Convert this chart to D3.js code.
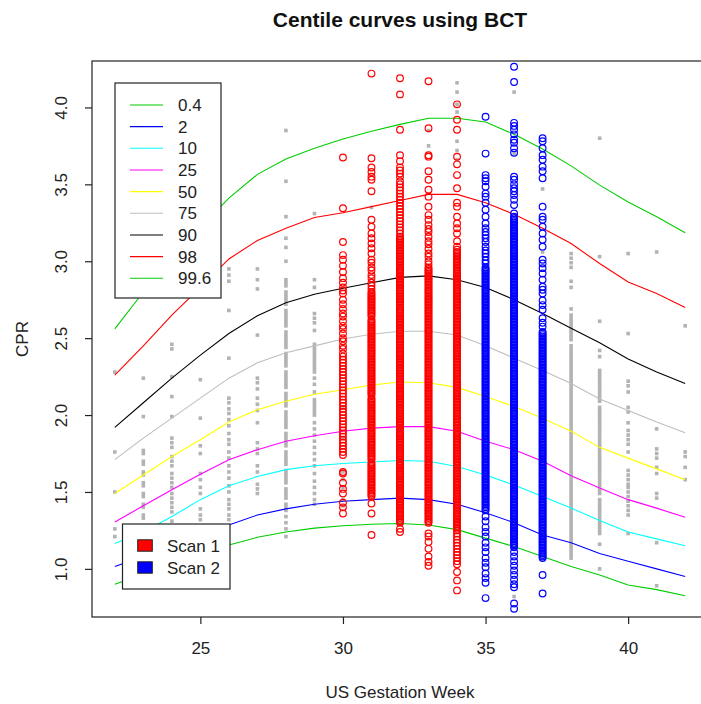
<!DOCTYPE html>
<html>
<head>
<meta charset="utf-8">
<script src="https://cdn.jsdelivr.net/npm/d3@7"></script>
<style>
  html, body { margin: 0; padding: 0; background: #ffffff; }
  svg { display: block; font-family: Arial, "Liberation Sans", sans-serif; }
</style>
</head>
<body>
<svg id="chart" width="701" height="704"></svg>
<script>
// ---- Centile curves (CPR by gestation week) ----
const weeks = [22,23,24,25,26,27,28,29,30,31,32,33,34,35,36,37,38,39,40,41,42];
const c0_4  = [0.90,0.965,1.035,1.10,1.155,1.205,1.24,1.265,1.28,1.29,1.295,1.285,1.255,1.20,1.145,1.08,1.015,0.96,0.895,0.865,0.825];
const c2    = [1.015,1.08,1.15,1.22,1.285,1.35,1.39,1.42,1.44,1.45,1.46,1.45,1.42,1.365,1.30,1.22,1.17,1.10,1.05,1.00,0.95];
const c10   = [1.165,1.24,1.34,1.45,1.54,1.60,1.645,1.67,1.685,1.695,1.705,1.70,1.665,1.61,1.545,1.47,1.395,1.315,1.24,1.195,1.15];
const c25   = [1.305,1.41,1.515,1.615,1.71,1.775,1.83,1.865,1.895,1.915,1.925,1.925,1.895,1.83,1.775,1.70,1.605,1.525,1.45,1.395,1.335];
const c50   = [1.49,1.61,1.73,1.84,1.955,2.035,2.09,2.135,2.165,2.195,2.215,2.21,2.18,2.12,2.055,1.98,1.895,1.79,1.72,1.65,1.58];
const c75   = [1.71,1.85,1.98,2.11,2.24,2.34,2.405,2.45,2.495,2.525,2.545,2.545,2.52,2.45,2.37,2.29,2.205,2.105,2.03,1.955,1.885];
const c90   = [1.92,2.08,2.24,2.39,2.53,2.645,2.73,2.785,2.825,2.86,2.895,2.905,2.88,2.83,2.75,2.66,2.565,2.47,2.365,2.28,2.205];
const c98   = [2.26,2.45,2.65,2.83,3.015,3.135,3.215,3.285,3.315,3.355,3.395,3.435,3.435,3.38,3.305,3.215,3.115,2.985,2.865,2.79,2.70];
const c99_6 = [2.56,2.80,3.02,3.22,3.41,3.565,3.665,3.735,3.795,3.845,3.89,3.93,3.93,3.905,3.825,3.73,3.62,3.495,3.385,3.29,3.185];

const centileLabels = ["0.4","2","10","25","50","75","90","98","99.6"];
const centileColors = ["#00cd00","#0000ff","#00ffff","#ff00ff","#ffff00","#bebebe","#000000","#ff0000","#00cd00"];
const centileSeries = [c0_4, c2, c10, c25, c50, c75, c90, c98, c99_6];

// ---- Reference sample (grey squares), one array per week ----
const refWk22 = [2.28,1.76,1.50,1.26,1.21];
const refWk23 = [2.24,1.99,1.77,1.75,1.70,1.68,1.63,1.61,1.56,1.54,1.49,1.47,1.42,1.40,1.35,1.33,1.28,1.26,1.21];
const refWk24 = [2.46,2.43,2.25,2.12,1.99,1.85,1.82,1.79,1.73,1.70,1.67,1.62,1.59,1.56,1.53,1.49,1.46,1.43,1.40,1.37,1.31,1.28];
const refWk25 = [2.23,1.98,1.80,1.75,1.62,1.58,1.53,1.49,1.39,1.35,1.32];
const refWk26 = [2.95,2.91,2.87,2.68,2.37,2.11,2.08,2.04,2.01,1.97,1.93,1.88,1.84,1.81,1.76,1.72,1.67,1.63,1.59,1.54,1.50,1.45,1.42,1.39,1.35,1.32];
const refWk27 = [2.95,2.88,2.82,2.52,2.24,2.21,2.17,2.11,2.07,2.03,1.95,1.82,1.78,1.75,1.67,1.63,1.55,1.52,1.49];
const refWk28 = [3.85,3.52,3.29,3.15,3.09,3.00,2.88,2.86,2.84,2.80,2.78,2.76,2.74,2.72,2.68,2.66,2.64,2.62,2.60,2.58,2.54,2.52,2.50,2.48,2.46,2.44,2.40,2.38,2.36,2.34,2.32,2.28,2.26,2.24,2.22,2.20,2.18,2.14,2.12,2.10,2.08,2.06,2.02,2.00,1.98,1.96,1.94,1.92,1.88,1.86,1.84,1.82,1.80,1.76,1.74,1.72,1.70,1.68,1.64,1.62,1.60,1.58,1.56,1.52,1.50,1.48,1.46,1.42,1.40,1.38,1.34,1.30,1.26,1.21];
const refWk29 = [3.31,2.88,2.83,2.66,2.63,2.60,2.55,2.46,2.44,2.42,2.40,2.38,2.36,2.34,2.32,2.30,2.28,2.24,2.20,2.15,2.10,2.08,2.06,2.04,2.02,2.00,1.95,1.91,1.87,1.83,1.79,1.75,1.71,1.67,1.62,1.57,1.53,1.49,1.45,1.42];
const refWk30 = [2.05,1.85,1.63,1.58,1.53,1.45,1.41];
const refWk31 = [3.35,2.05];
const refWk33 = [3.85,3.75];
const refWk34 = [4.16,4.10,4.02,3.97,3.78,3.72,3.66];
const refWk36 = [4.10,3.70,0.82];
const refWk37 = [3.47,3.06];
const refWk38 = [3.05,3.02,2.99,2.96,2.87,2.83,2.69,2.65,2.63,2.61,2.59,2.57,2.55,2.53,2.51,2.49,2.45,2.43,2.41,2.39,2.37,2.35,2.33,2.31,2.29,2.27,2.25,2.23,2.21,2.19,2.17,2.15,2.13,2.11,2.09,2.07,2.05,2.03,2.01,1.99,1.97,1.95,1.93,1.91,1.89,1.87,1.85,1.83,1.81,1.79,1.77,1.75,1.73,1.71,1.69,1.67,1.65,1.63,1.61,1.59,1.57,1.55,1.53,1.51,1.49,1.47,1.45,1.43,1.41,1.39,1.37,1.35,1.33,1.31,1.29,1.27,1.25,1.23,1.21,1.19,1.17,1.15,1.13,1.11,1.09,1.07];
const refWk39 = [3.80,3.03,2.61,2.42,2.38,2.29,2.27,2.25,2.23,2.21,2.19,2.17,2.15,2.13,2.11,2.09,2.05,2.03,2.01,1.99,1.97,1.95,1.93,1.91,1.89,1.87,1.85,1.83,1.81,1.79,1.77,1.75,1.73,1.71,1.69,1.67,1.65,1.63,1.61,1.59,1.57,1.55,1.53,1.51,1.49,1.45,1.43,1.41,1.39,1.37,1.35,1.33,1.31,1.29,1.27,1.25,1.23,1.16,1.00];
const refWk40 = [3.05,2.53,2.22,2.19,2.15,2.05,2.02,1.95,1.90,1.87,1.84,1.81,1.76,1.64,1.61,1.58,1.55,1.53,1.50,1.47,1.44,1.41,1.38,1.35,1.23];
const refWk41 = [3.06,1.91,1.78,1.75,1.72,1.66,1.62,1.49,1.46,1.17,0.89];
const refWk42 = [2.58,1.76,1.73,1.66,1.58];

// ---- Scan 1 (weeks 30-34) ----
const scan1Wk30 = [3.675,3.345,3.125,3.04,3.01,2.97,2.93,2.89,2.86,2.83,2.81,2.79,2.75,2.72,2.69,2.66,2.64,2.61,2.58,2.56,2.53,2.50,2.48,2.45,2.43,2.40,2.38,2.36,
  2.34,2.32,2.30,2.28,2.26,2.24,2.22,2.20,2.18,2.16,2.14,2.12,2.10,2.08,2.06,2.04,2.02,2.00,1.98,1.96,1.94,1.92,1.90,1.88,1.86,1.84,1.82,1.80,1.78,1.76,1.74,
  1.63,1.62,1.56,1.52,1.49,1.43,1.40,1.36];
const scan1Wk31 = [4.22,3.67,3.61,3.58,3.55,3.53,3.455,3.27,3.225,3.18,3.15,3.115,3.085,3.05,3.01,2.99,2.96,2.94,2.91,2.89,2.86,2.84,2.82,
  2.80,2.79,2.78,2.77,2.76,2.75,2.74,2.73,2.72,2.71,2.70,2.69,2.68,2.67,2.66,2.65,2.64,2.62,2.61,2.60,
  2.59,2.58,2.57,2.56,2.55,2.54,2.53,2.52,2.51,2.50,2.49,2.48,2.47,2.46,2.45,2.44,2.43,2.42,2.41,2.40,
  2.39,2.38,2.37,2.36,2.35,2.34,2.33,2.32,2.31,2.30,2.29,2.28,2.27,2.26,2.25,2.24,2.23,2.22,2.21,2.20,
  2.19,2.18,2.17,2.16,2.15,2.14,2.13,2.11,2.10,2.09,2.08,2.07,2.06,2.05,2.04,2.03,2.02,2.01,2.00,
  1.99,1.98,1.97,1.96,1.95,1.94,1.93,1.92,1.91,1.90,1.89,1.88,1.87,1.86,1.85,1.84,1.83,1.82,1.81,1.80,
  1.79,1.78,1.77,1.76,1.75,1.74,1.73,1.72,1.71,1.69,1.68,1.67,1.66,1.65,1.64,1.63,1.62,1.61,1.60,
  1.59,1.58,1.57,1.56,1.55,1.54,1.53,1.52,1.51,1.50,1.49,1.48,1.47,1.425,1.36,1.22];
const scan1Wk32 = [4.19,4.085,3.855,3.69,3.65,3.61,3.59,3.57,3.55,3.52,3.50,3.48,3.46,3.44,3.42,3.40,3.38,3.36,3.34,3.32,3.30,3.28,3.26,3.24,3.22,3.20,3.18,3.16,
  3.15,3.14,3.13,3.12,3.11,3.10,3.09,3.08,3.07,3.06,3.05,3.04,3.03,3.02,3.01,3.00,
  2.99,2.98,2.97,2.96,2.95,2.94,2.93,2.92,2.91,2.90,2.89,2.88,2.87,2.86,2.85,2.84,2.83,2.82,2.81,2.80,
  2.79,2.78,2.77,2.76,2.75,2.74,2.73,2.72,2.71,2.70,2.69,2.68,2.67,2.66,2.65,2.64,2.63,2.62,2.61,2.60,
  2.59,2.58,2.57,2.56,2.55,2.54,2.53,2.52,2.51,2.50,2.49,2.48,2.47,2.46,2.45,2.44,2.43,2.42,2.41,2.40,
  2.39,2.38,2.37,2.36,2.35,2.34,2.33,2.32,2.31,2.30,2.29,2.28,2.27,2.26,2.25,2.24,2.23,2.22,2.21,2.20,
  2.19,2.18,2.17,2.16,2.15,2.14,2.13,2.12,2.11,2.10,2.09,2.08,2.07,2.06,2.05,2.04,2.03,2.02,2.01,2.00,
  1.99,1.98,1.97,1.96,1.95,1.94,1.93,1.92,1.91,1.90,1.89,1.88,1.87,1.86,1.85,1.84,1.83,1.82,1.81,1.80,
  1.79,1.78,1.77,1.76,1.75,1.74,1.73,1.72,1.71,1.70,1.69,1.68,1.67,1.66,1.65,1.64,1.63,1.62,1.61,1.60,
  1.59,1.58,1.57,1.56,1.55,1.54,1.53,1.52,1.51,1.50,1.49,1.48,1.47,1.46,1.45,1.44,1.43,1.42,1.41,1.40,
  1.39,1.38,1.37,1.36,1.35,1.34,1.33,1.32,1.31,1.30,1.26,1.24];
const scan1Wk33 = [4.17,3.865,3.69,3.68,3.585,3.53,3.465,3.42,3.355,3.30,3.27,3.235,3.21,3.19,3.16,3.13,3.11,3.08,3.05,3.03,3.00,2.98,
  2.96,2.95,2.94,2.93,2.92,2.91,2.90,2.89,2.88,2.87,2.86,2.85,2.84,2.83,2.82,2.81,2.80,
  2.79,2.78,2.77,2.76,2.75,2.74,2.73,2.72,2.71,2.70,2.69,2.68,2.67,2.66,2.65,2.64,2.63,2.62,2.61,2.60,
  2.59,2.58,2.57,2.56,2.55,2.54,2.53,2.52,2.51,2.50,2.49,2.48,2.47,2.46,2.45,2.44,2.43,2.42,2.41,2.40,
  2.39,2.38,2.37,2.36,2.35,2.34,2.33,2.32,2.31,2.30,2.29,2.28,2.27,2.26,2.25,2.24,2.23,2.22,2.21,2.20,
  2.19,2.18,2.17,2.16,2.15,2.14,2.13,2.12,2.11,2.10,2.09,2.08,2.07,2.06,2.05,2.04,2.03,2.02,2.01,2.00,
  1.99,1.98,1.97,1.96,1.95,1.94,1.93,1.92,1.91,1.90,1.89,1.88,1.87,1.86,1.85,1.84,1.83,1.82,1.81,1.80,
  1.79,1.78,1.77,1.76,1.75,1.74,1.73,1.72,1.71,1.70,1.69,1.68,1.67,1.66,1.65,1.64,1.63,1.62,1.61,1.60,
  1.59,1.58,1.57,1.56,1.55,1.54,1.53,1.52,1.51,1.50,1.49,1.48,1.47,1.46,1.45,1.44,1.43,1.42,1.41,1.40,
  1.39,1.38,1.37,1.36,1.35,1.34,1.33,1.32,1.31,1.30,1.23,1.21,1.175,1.13,1.08,1.045,1.02];
const scan1Wk34 = [4.02,3.92,3.855,3.68,3.63,3.56,3.475,3.38,3.355,3.29,3.245,3.215,3.18,3.13,3.095,3.075,
  3.06,3.05,3.04,3.03,3.02,3.01,3.00,
  2.99,2.98,2.97,2.96,2.95,2.94,2.93,2.92,2.91,2.90,2.89,2.88,2.87,2.86,2.85,2.84,2.83,2.82,2.81,2.80,
  2.79,2.78,2.77,2.76,2.75,2.74,2.73,2.72,2.71,2.70,2.69,2.68,2.67,2.66,2.65,2.64,2.63,2.62,2.61,2.60,
  2.59,2.58,2.57,2.56,2.55,2.54,2.53,2.52,2.51,2.50,2.49,2.48,2.47,2.46,2.45,2.44,2.43,2.42,2.41,2.40,
  2.39,2.38,2.37,2.36,2.35,2.34,2.33,2.32,2.31,2.30,2.29,2.28,2.27,2.26,2.25,2.24,2.23,2.22,2.21,2.20,
  2.19,2.18,2.17,2.16,2.15,2.14,2.13,2.12,2.11,2.10,2.09,2.08,2.07,2.06,2.05,2.04,2.03,2.02,2.01,2.00,
  1.99,1.98,1.97,1.96,1.95,1.94,1.93,1.92,1.91,1.90,1.89,1.88,1.87,1.86,1.85,1.84,1.83,1.82,1.81,1.80,
  1.79,1.78,1.77,1.76,1.75,1.74,1.73,1.72,1.71,1.70,1.69,1.68,1.67,1.66,1.65,1.64,1.63,1.62,1.61,1.60,
  1.59,1.58,1.57,1.56,1.55,1.54,1.53,1.52,1.51,1.50,1.49,1.48,1.47,1.46,1.45,1.44,1.43,1.42,1.41,1.40,
  1.39,1.38,1.37,1.36,1.35,1.34,1.33,1.32,1.31,1.30,1.29,1.28,1.27,1.26,1.25,
  1.23,1.21,1.19,1.17,1.15,1.13,1.11,1.09,1.07,1.05,1.03,0.98,0.925,0.86];

// ---- Scan 2 (weeks 35-37) ----
const scan2Wk35 = [3.94,3.70,3.56,3.54,3.52,3.485,3.44,3.42,3.38,3.335,3.29,3.245,3.215,3.19,3.17,3.15,3.125,3.095,3.07,3.05,3.03,3.005,2.985,
  2.96,2.95,2.94,2.93,2.92,2.91,2.90,2.89,2.88,2.87,2.86,2.85,2.84,2.83,2.82,2.81,2.80,
  2.79,2.78,2.77,2.76,2.75,2.74,2.73,2.72,2.71,2.70,2.69,2.68,2.67,2.66,2.65,2.64,2.63,2.62,2.61,2.60,
  2.59,2.58,2.57,2.56,2.55,2.54,2.53,2.52,2.51,2.50,2.49,2.48,2.47,2.46,2.45,2.44,2.43,2.42,2.41,2.40,
  2.39,2.38,2.37,2.36,2.35,2.34,2.33,2.32,2.31,2.30,2.29,2.28,2.27,2.26,2.25,2.24,2.23,2.22,2.21,2.20,
  2.19,2.18,2.17,2.16,2.15,2.14,2.13,2.12,2.11,2.10,2.09,2.08,2.07,2.06,2.05,2.04,2.03,2.02,2.01,2.00,
  1.99,1.98,1.97,1.96,1.95,1.94,1.93,1.92,1.91,1.90,1.89,1.88,1.87,1.86,1.85,1.84,1.83,1.82,1.81,1.80,
  1.79,1.78,1.77,1.76,1.75,1.74,1.73,1.72,1.71,1.70,1.69,1.68,1.67,1.66,1.65,1.64,1.63,1.62,1.61,1.60,
  1.59,1.58,1.57,1.56,1.55,1.54,1.53,1.52,1.51,1.50,1.49,1.48,1.47,1.46,1.45,1.44,1.43,1.42,1.41,1.40,
  1.39,1.38,1.34,1.31,1.27,1.24,1.21,1.17,1.14,1.11,1.07,1.04,1.01,0.97,0.94,0.91,0.81];
const scan2Wk36 = [4.265,4.165,3.90,3.88,3.855,3.825,3.79,3.77,3.735,3.705,3.55,3.53,3.50,3.475,3.455,3.43,3.40,3.365,3.31,
  3.29,3.28,3.27,3.26,3.25,3.24,3.23,3.22,3.21,3.20,
  3.19,3.18,3.17,3.16,3.15,3.14,3.13,3.12,3.11,3.10,3.09,3.08,3.07,3.06,3.05,3.04,3.03,3.02,3.01,3.00,
  2.99,2.98,2.97,2.96,2.95,2.94,2.93,2.92,2.91,2.90,2.89,2.88,2.87,2.86,2.85,2.84,2.83,2.82,2.81,2.80,
  2.79,2.78,2.77,2.76,2.75,2.74,2.73,2.72,2.71,2.70,2.69,2.68,2.67,2.66,2.65,2.64,2.63,2.62,2.61,2.60,
  2.59,2.58,2.57,2.56,2.55,2.54,2.53,2.52,2.51,2.50,2.49,2.48,2.47,2.46,2.45,2.44,2.43,2.42,2.41,2.40,
  2.39,2.38,2.37,2.36,2.35,2.34,2.33,2.32,2.31,2.30,2.29,2.28,2.27,2.26,2.25,2.24,2.23,2.22,2.21,2.20,
  2.19,2.18,2.17,2.16,2.15,2.14,2.13,2.12,2.11,2.10,2.09,2.08,2.07,2.06,2.05,2.04,2.03,2.02,2.01,2.00,
  1.99,1.98,1.97,1.96,1.95,1.94,1.93,1.92,1.91,1.90,1.89,1.88,1.87,1.86,1.85,1.84,1.83,1.82,1.81,1.80,
  1.79,1.78,1.77,1.76,1.75,1.74,1.73,1.72,1.71,1.70,1.69,1.68,1.67,1.66,1.65,1.64,1.63,1.62,1.61,1.60,
  1.59,1.58,1.57,1.56,1.55,1.54,1.53,1.52,1.51,1.50,1.49,1.48,1.47,1.46,1.45,1.44,1.43,1.42,1.41,1.40,
  1.39,1.38,1.37,1.36,1.35,1.34,1.33,1.32,1.31,1.30,1.29,1.28,1.27,1.26,1.25,1.24,1.23,1.22,1.21,1.20,
  1.19,1.18,1.17,1.16,1.15,1.14,1.11,1.08,1.05,1.02,0.99,0.96,0.93,0.90,0.88,0.775,0.74];
const scan2Wk37 = [3.80,3.78,3.735,3.69,3.66,3.615,3.585,3.54,3.355,3.29,3.27,3.225,3.18,3.14,3.095,3.01,2.985,2.955,2.92,2.88,2.835,2.815,2.79,2.745,2.715,2.685,2.63,2.60,2.575,
  2.54,2.53,2.52,2.51,2.50,2.49,2.48,2.47,2.46,2.45,2.44,2.43,2.42,2.41,2.40,
  2.39,2.38,2.37,2.36,2.35,2.34,2.33,2.32,2.31,2.30,2.29,2.28,2.27,2.26,2.25,2.24,2.23,2.22,2.21,2.20,
  2.19,2.18,2.17,2.16,2.15,2.14,2.13,2.12,2.11,2.10,2.09,2.08,2.07,2.06,2.05,2.04,2.03,2.02,2.01,2.00,
  1.99,1.98,1.97,1.96,1.95,1.94,1.93,1.92,1.91,1.90,1.89,1.88,1.87,1.86,1.85,1.84,1.83,1.82,1.81,1.80,
  1.79,1.78,1.77,1.76,1.75,1.74,1.73,1.72,1.71,1.70,1.69,1.68,1.67,1.66,1.65,1.64,1.63,1.62,1.61,1.60,
  1.59,1.58,1.57,1.56,1.55,1.54,1.53,1.52,1.51,1.50,1.49,1.48,1.47,1.46,1.45,1.44,1.43,1.42,1.41,1.40,
  1.39,1.38,1.37,1.36,1.35,1.34,1.33,1.32,1.31,1.30,1.29,1.28,1.27,1.26,1.25,1.24,1.23,1.22,1.21,1.20,
  1.19,1.18,1.17,1.16,1.15,1.14,1.13,1.12,1.11,1.10,1.09,1.08,1.07,0.96,0.84];

const scanLabels = ["Scan 1","Scan 2"];
const scanColors = ["#ff0000","#0000ff"];
const xTicks = [25,30,35,40];
const yTicks = [1.0,1.5,2.0,2.5,3.0,3.5,4.0];

// ---- Assemble columns ----
const refColumns = [[22,refWk22],[23,refWk23],[24,refWk24],[25,refWk25],[26,refWk26],[27,refWk27],[28,refWk28],
  [29,refWk29],[30,refWk30],[31,refWk31],[33,refWk33],[34,refWk34],[36,refWk36],[37,refWk37],
  [38,refWk38],[39,refWk39],[40,refWk40],[41,refWk41],[42,refWk42]];
const scan1Columns = [[30,scan1Wk30],[31,scan1Wk31],[32,scan1Wk32],[33,scan1Wk33],[34,scan1Wk34]];
const scan2Columns = [[35,scan2Wk35],[36,scan2Wk36],[37,scan2Wk37]];
const flatten = cols => cols.flatMap(([w, vals]) => vals.map(v => ({w, v})));

// ---- Layout & scales ----
const svg = d3.select("#chart");
const plot = {left: 92, right: 708, top: 61, bottom: 617};
const x = d3.scaleLinear().domain([21.2, 42.8]).range([plot.left, plot.right]);
const y = d3.scaleLinear().domain([0.687, 4.302]).range([plot.bottom, plot.top]);

// Reference squares
svg.append("g").selectAll("rect").data(flatten(refColumns)).join("rect")
  .attr("x", d => x(d.w) - 1.8).attr("y", d => y(d.v) - 1.8)
  .attr("width", 3.6).attr("height", 3.6)
  .attr("fill", "#b3b3b3");

// Centile lines
const line = d3.line().x(d => x(d[0])).y(d => y(d[1]));
centileSeries.forEach((vals, i) => {
  svg.append("path")
    .datum(weeks.map((w, j) => [w, vals[j]]))
    .attr("d", line)
    .attr("fill", "none")
    .attr("stroke", centileColors[i])
    .attr("stroke-width", 1.1);
});

// Scan circles, added on top of the curves
[[scan1Columns, scanColors[0]], [scan2Columns, scanColors[1]]].forEach(([cols, col]) => {
  svg.append("g").selectAll("circle").data(flatten(cols)).join("circle")
    .attr("cx", d => x(d.w)).attr("cy", d => y(d.v)).attr("r", 3.35)
    .attr("fill", "none").attr("stroke", col).attr("stroke-width", 1.2);
});

// Plot frame
svg.append("rect")
  .attr("x", plot.left).attr("y", plot.top)
  .attr("width", plot.right - plot.left).attr("height", plot.bottom - plot.top)
  .attr("fill", "none").attr("stroke", "#222").attr("stroke-width", 1.2);

// Axes
const xAxis = svg.append("g").attr("transform", `translate(0,${plot.bottom})`)
  .call(d3.axisBottom(x).tickValues(xTicks).tickSize(7).tickPadding(18).tickFormat(d3.format("d")));
xAxis.select(".domain").remove();
xAxis.selectAll("line").attr("stroke", "#222").attr("stroke-width", 1.2);
xAxis.selectAll("text").attr("font-size", 17).attr("fill", "#222").attr("font-family", null);

const yAxis = svg.append("g").attr("transform", `translate(${plot.left},0)`)
  .call(d3.axisLeft(y).tickValues(yTicks).tickSize(7).tickFormat(d3.format(".1f")));
yAxis.select(".domain").remove();
yAxis.selectAll("line").attr("stroke", "#222").attr("stroke-width", 1.2);
yAxis.selectAll("text")
  .attr("x", null).attr("dy", null)
  .attr("transform", "translate(-25,0) rotate(-90)")
  .attr("text-anchor", "middle")
  .attr("font-size", 17).attr("fill", "#222").attr("font-family", null);

// Titles
svg.append("text").attr("x", 400).attr("y", 27).attr("text-anchor", "middle")
  .attr("font-size", 21).attr("font-weight", "bold").attr("fill", "#111")
  .text("Centile curves using BCT");
svg.append("text").attr("x", 400).attr("y", 698).attr("text-anchor", "middle")
  .attr("font-size", 17).attr("fill", "#222").text("US Gestation Week");
svg.append("text").attr("transform", "translate(28,339) rotate(-90)").attr("text-anchor", "middle")
  .attr("font-size", 17).attr("fill", "#222").text("CPR");

// Centile legend
const leg1 = svg.append("g");
leg1.append("rect").attr("x", 115).attr("y", 83).attr("width", 106).attr("height", 215)
  .attr("fill", "#fff").attr("stroke", "#222").attr("stroke-width", 1.2);
centileLabels.forEach((lab, i) => {
  const cy = 105 + i * 21.66;
  leg1.append("line").attr("x1", 130).attr("x2", 163).attr("y1", cy).attr("y2", cy)
    .attr("stroke", centileColors[i]).attr("stroke-width", 1.1);
  leg1.append("text").attr("x", 178).attr("y", cy).attr("dy", "0.36em")
    .attr("font-size", 17).attr("fill", "#222").text(lab);
});

// Scan legend
const leg2 = svg.append("g");
leg2.append("rect").attr("x", 122.5).attr("y", 524).attr("width", 107.5).attr("height", 65)
  .attr("fill", "#fff").attr("stroke", "#222").attr("stroke-width", 1.2);
scanLabels.forEach((lab, i) => {
  const cy = 545.5 + i * 22;
  leg2.append("rect").attr("x", 137.7).attr("y", cy - 5.7).attr("width", 14.6).attr("height", 11.4)
    .attr("fill", scanColors[i]).attr("stroke", "#222").attr("stroke-width", 1);
  leg2.append("text").attr("x", 167).attr("y", cy).attr("dy", "0.36em")
    .attr("font-size", 17).attr("fill", "#222").text(lab);
});
</script>
</body>
</html>
